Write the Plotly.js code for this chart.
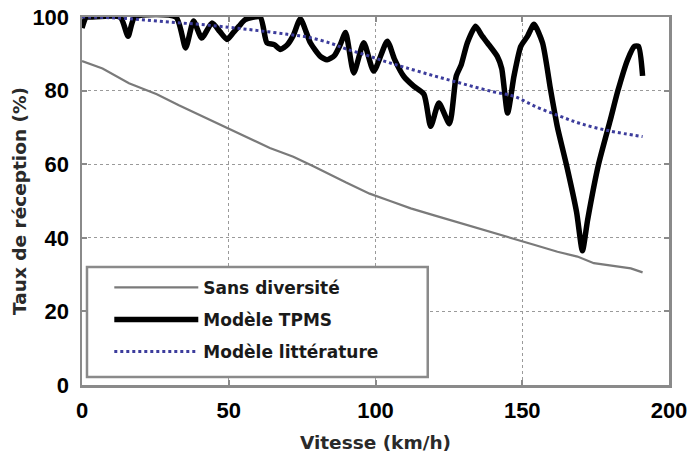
<!DOCTYPE html>
<html>
<head>
<meta charset="utf-8">
<script src="https://cdn.plot.ly/plotly-3.0.1.min.js"></script>
<style>html,body{margin:0;padding:0;background:#fff;}#chart{width:691px;height:454px;}</style>
</head>
<body>
<div id="chart"></div>
<script>
// Sans diversité
const sansX = [0, 7, 16, 25.5, 33, 41, 49, 57, 64, 72, 79, 90, 98, 105, 112, 120, 130, 142.7, 154, 162, 168.8, 174.4, 181, 187, 191];
const sansY = [88, 86, 82, 79, 76, 73, 70, 67, 64.4, 62, 59.4, 55, 52, 50, 48, 46.1, 43.8, 40.8, 38.1, 36.2, 34.9, 33.1, 32.3, 31.7, 30.6];

// Modèle TPMS
const tpmsX = [0, 1.5, 3, 13, 15.7, 18, 32, 35.3, 38, 40.8, 44.3, 47, 49.4, 51.6, 53.5, 55.6, 60.7, 63, 65.5, 67.6, 70, 72, 74.4, 77.8, 81.2, 83.5, 86, 88, 89.8, 92.6, 96, 99.4, 104, 106.5, 109.6, 113, 116.5, 118.8, 121.6, 125.2, 127.5, 129.2, 131.3, 134.1, 136.2, 138.1, 141.5, 143, 145, 147.2, 149.5, 151.8, 154, 156.9, 159.7, 162, 165, 168.5, 170.5, 172.3, 176, 180, 182.6, 185.9, 188.2, 189.6, 191];
const tpmsY = [97, 100, 100, 100, 94.8, 100, 100, 91.6, 98.9, 94.3, 98.4, 96, 93.9, 95.8, 97.5, 99.3, 100, 93, 92.5, 91.2, 92.5, 95, 99.5, 93, 89.3, 88.4, 89.5, 92.5, 95.8, 84.8, 93, 85.3, 93.4, 88.5, 83.9, 81.2, 79, 70.3, 76.6, 71, 83.9, 87, 93, 97.5, 95, 93, 89.3, 86, 73.9, 84, 92, 94.8, 98, 93, 80, 70, 60, 47, 36.5, 45, 60, 72, 80, 88.4, 92, 92, 84];

// Modèle littérature
const litX = [0, 10, 20, 30, 40, 50, 60, 70, 77, 85, 90, 97, 103, 110, 120, 130, 140, 147, 155, 163, 170, 180, 191];
const litY = [100, 99.8, 99.3, 98.6, 98, 97.2, 96.3, 95.3, 94.5, 92.8, 91.3, 89.6, 88, 86.3, 84, 81.8, 79.7, 78.5, 75.5, 73, 71, 69, 67.5];

const names = ['Sans diversité', 'Modèle TPMS', 'Modèle littérature'];
const xTicks = [0, 50, 100, 150, 200];
const yTicks = [0, 20, 40, 60, 80, 100];

const traces = [
  {x: sansX, y: sansY, name: names[0], mode: 'lines', legendgroup: 'a',
   line: {color: '#7a7a7a', width: 2.2}},
  {x: tpmsX, y: tpmsY, name: names[1], mode: 'lines', legendgroup: 'b',
   line: {color: '#000000', width: 5.5, shape: 'spline', smoothing: 0.6}},
  {x: litX, y: litY, name: names[2], mode: 'lines', legendgroup: 'c',
   line: {color: '#3c3c9c', width: 3, dash: 'dot', shape: 'spline'}}
];

const tickFont = {family: '"Liberation Sans Narrow", "Arial Narrow", "Liberation Sans", Arial, sans-serif', size: 22, color: '#000', weight: 'bold'};
const titleFont = {family: '"DejaVu Sans", Verdana, sans-serif', size: 18.5, color: '#2a2a2a', weight: 'bold'};

const layout = {
  width: 691, height: 454,
  margin: {l: 82, r: 22, t: 17, b: 69},
  paper_bgcolor: '#fff', plot_bgcolor: '#fff',
  showlegend: true,
  xaxis: {
    range: [0, 200], tickvals: xTicks, ticktext: xTicks.map(String),
    showgrid: true, gridcolor: '#9a9a9a', griddash: 'dot', gridwidth: 1.2,
    zeroline: false, showline: true, mirror: 'ticks', linecolor: '#8a8a8a', linewidth: 2.5,
    ticks: 'inside', ticklen: 5, tickcolor: '#8a8a8a', tickwidth: 2,
    tickfont: tickFont, ticklabelstandoff: 4,
    title: {text: 'Vitesse (km/h)', font: titleFont, standoff: 14}
  },
  yaxis: {
    range: [0, 100], tickvals: yTicks, ticktext: yTicks.map(String),
    showgrid: true, gridcolor: '#9a9a9a', griddash: 'dot', gridwidth: 1.2,
    zeroline: false, showline: true, mirror: 'ticks', linecolor: '#8a8a8a', linewidth: 2.5,
    ticks: 'inside', ticklen: 5, tickcolor: '#8a8a8a', tickwidth: 2,
    tickfont: tickFont, ticklabelstandoff: 6,
    title: {text: 'Taux de réception (%)', font: titleFont, standoff: 1}
  },
  shapes: [{
    type: 'rect', xref: 'paper', yref: 'paper', layer: 'above',
    x0: 0.0085, x1: 0.589, y0: 0.0217, y1: 0.3207,
    fillcolor: '#ffffff', line: {color: '#8a8a8a', width: 2.5}
  }],
  legend: {
    x: 0.0465, y: 0.313, xanchor: 'left', yanchor: 'top',
    bgcolor: 'rgba(0,0,0,0)', borderwidth: 0,
    font: {family: '"DejaVu Sans", Verdana, sans-serif', size: 17, color: '#1a1a1a', weight: 'bold'},
    itemwidth: 84, tracegroupgap: 7, traceorder: 'grouped'
  }
};

Plotly.newPlot('chart', traces, layout, {displayModeBar: false, staticPlot: true});
</script>
</body>
</html>
